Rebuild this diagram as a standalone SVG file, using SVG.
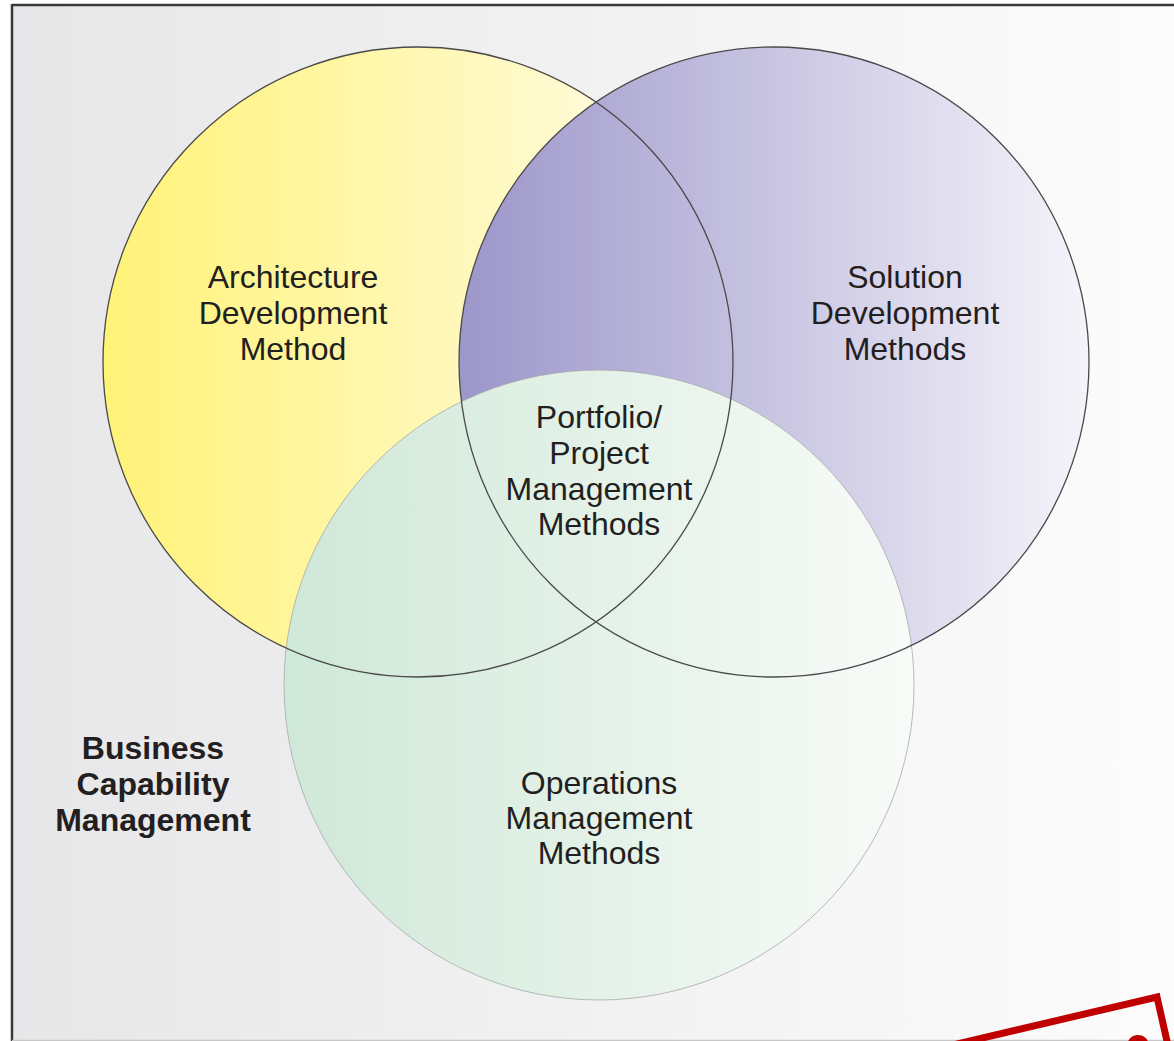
<svg xmlns="http://www.w3.org/2000/svg" width="1174" height="1041" viewBox="0 0 1174 1041">
<defs>
<linearGradient id="bg" x1="0" y1="0" x2="1" y2="0"><stop offset="0" stop-color="#e7e7e9"/><stop offset="1" stop-color="#fcfcfc"/></linearGradient>
<linearGradient id="gy" x1="0" y1="0" x2="1" y2="0"><stop offset="0" stop-color="#fff277"/><stop offset="1" stop-color="#fffdf0"/></linearGradient>
<linearGradient id="gp" x1="0" y1="0" x2="1" y2="0"><stop offset="0" stop-color="#9c96ca"/><stop offset="1" stop-color="#f5f4fa"/></linearGradient>
<linearGradient id="gg" x1="0" y1="0" x2="1" y2="0"><stop offset="0" stop-color="#cfe8d8"/><stop offset="1" stop-color="#f8fbf8"/></linearGradient>
</defs>
<style>
.t{font-family:"Liberation Sans",Arial,sans-serif;font-size:32px;fill:#231f20;text-anchor:middle}
.b{font-weight:bold}
.ring{fill:none;stroke:#4a4a4a;stroke-width:1.3}
</style>
<g id="frame">
<rect x="12" y="5" width="1170" height="1035" fill="url(#bg)"/>
<line x1="12" y1="5" x2="1174" y2="5" stroke="#3a3a3a" stroke-width="2.5"/>
<line x1="12" y1="4" x2="12" y2="1041" stroke="#3a3a3a" stroke-width="2.5"/>
<line x1="12" y1="1040.5" x2="1174" y2="1040.5" stroke="#c8c8c8" stroke-width="1.5"/>
</g>
<g id="adm">
<circle cx="418" cy="362" r="315" fill="url(#gy)"/>
</g>
<g id="sdm">
<circle cx="774" cy="362" r="315" fill="url(#gp)"/>
</g>
<g id="omm">
<circle cx="599" cy="685" r="315" fill="url(#gg)" stroke="#a8a8a8" stroke-width="0.8"/>
</g>
<g id="outlines">
<circle class="ring" cx="418" cy="362" r="315"/>
<circle class="ring" cx="774" cy="362" r="315"/>
</g>
<g id="labels">
<text class="t" x="293" y="288">Architecture</text>
<text class="t" x="293" y="324">Development</text>
<text class="t" x="293" y="360">Method</text>
<text class="t" x="905" y="288">Solution</text>
<text class="t" x="905" y="324">Development</text>
<text class="t" x="905" y="360">Methods</text>
<text class="t" x="599" y="428">Portfolio/</text>
<text class="t" x="599" y="464">Project</text>
<text class="t" x="599" y="500">Management</text>
<text class="t" x="599" y="535">Methods</text>
<text class="t" x="599" y="794">Operations</text>
<text class="t" x="599" y="829">Management</text>
<text class="t" x="599" y="864">Methods</text>
<text class="t b" x="153" y="759">Business</text>
<text class="t b" x="153" y="795">Capability</text>
<text class="t b" x="153" y="831">Management</text>
</g>
<g id="stamp">
<path d="M940,1048 L1157,997 L1169,1050" fill="none" stroke="#c00000" stroke-width="7" stroke-linejoin="miter"/>
<circle cx="1138" cy="1046" r="11" fill="#c00000"/>
</g>
</svg>
